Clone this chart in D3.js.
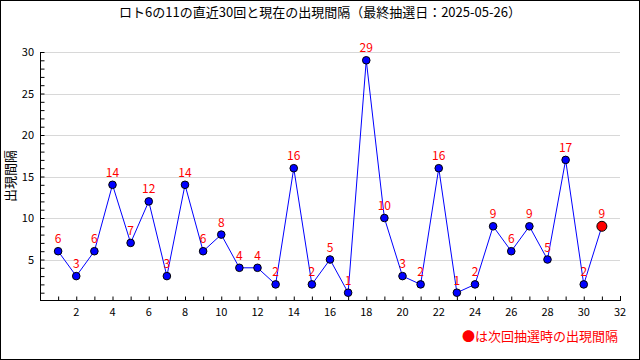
<!DOCTYPE html>
<html><head><meta charset="utf-8">
<script src="https://cdn.jsdelivr.net/npm/d3@7"></script>
<style>body{margin:0;background:#fff}svg{display:block}</style>
</head><body><svg id="c" width="640" height="360"></svg>
<script>
const title = "ロト6の11の直近30回と現在の出現間隔（最終抽選日：2025-05-26）";
const yLabel = "出現間隔";
const legendText = "●は次回抽選時の出現間隔";
const draws = d3.range(1, 32);
const intervals = [6,3,6,14,7,12,3,14,6,8,4,4,2,16,2,5,1,29,10,3,2,16,1,2,9,6,9,5,17,2,9];
const xTicks = d3.range(2, 33, 2);
const yTicks = [5,10,15,20,25,30];

const font = "'Noto Sans CJK JP', sans-serif";
const svg = d3.select("#c");
svg.append("rect").attr("x",0.5).attr("y",0.5).attr("width",639).attr("height",359)
  .attr("fill","#fff").attr("stroke","#000");

const x = d3.scaleLinear().domain([0,32]).range([40,620]);
const y = d3.scaleLinear().domain([0,30]).range([301,52]);

// grid
svg.append("g").selectAll("line").data(yTicks).join("line")
  .attr("x1",40).attr("x2",620).attr("y1",d=>Math.round(y(d))+0.5).attr("y2",d=>Math.round(y(d))+0.5)
  .attr("stroke","#d8d8d8");

// y axis
const ya = svg.append("g").attr("transform","translate(40.5,0)")
  .call(d3.axisRight(y).tickValues(d3.range(1,31)).tickSize(4).tickFormat(""));
ya.select(".domain").remove();
ya.selectAll("line").attr("stroke","#000");
svg.append("line").attr("x1",40.5).attr("x2",40.5).attr("y1",y(30)).attr("y2",301).attr("stroke","#000");
svg.append("g").selectAll("text").data(yTicks).join("text")
  .attr("x",34).attr("y",d=>y(d)+4).attr("text-anchor","end")
  .attr("font-family",font).attr("font-size",11).text(d=>d);

// x axis
const xa = svg.append("g").attr("transform","translate(0,300.5)")
  .call(d3.axisTop(x).tickValues(d3.range(1,33)).tickSize(4).tickFormat(""));
xa.select(".domain").remove();
xa.selectAll("line").attr("stroke","#000");
svg.append("line").attr("x1",40).attr("x2",620).attr("y1",300.5).attr("y2",300.5).attr("stroke","#000");
svg.append("line").attr("x1",620.5).attr("x2",620.5).attr("y1",296).attr("y2",301).attr("stroke","#000");
svg.append("g").selectAll("text").data(xTicks).join("text")
  .attr("x",d=>x(d)).attr("y",316).attr("text-anchor","middle")
  .attr("font-family",font).attr("font-size",11).text(d=>d);

// line
svg.append("path").datum(draws)
  .attr("d", d3.line().x(d=>x(d)).y((d,i)=>y(intervals[i])))
  .attr("fill","none").attr("stroke","#0000ff").attr("stroke-width",1);

// points
svg.append("g").selectAll("circle").data(draws).join("circle")
  .attr("cx",d=>x(d)).attr("cy",(d,i)=>y(intervals[i]))
  .attr("r",(d,i)=>i===draws.length-1?5:3.8)
  .attr("fill",(d,i)=>i===draws.length-1?"#ff0000":"#0000ff")
  .attr("stroke","#000").attr("stroke-width",1);

// value labels
svg.append("g").selectAll("text").data(draws).join("text")
  .attr("x",d=>x(d)).attr("y",(d,i)=>y(intervals[i])-8)
  .attr("text-anchor","middle").attr("fill","#ff0000")
  .attr("font-family",font).attr("font-size",12).text((d,i)=>intervals[i]);

// title
svg.append("text").attr("x",320).attr("y",17).attr("text-anchor","middle")
  .attr("font-family",font).attr("font-size",13).text(title);

// y label
svg.append("text").attr("transform","translate(15,176) rotate(-90)").attr("text-anchor","middle")
  .attr("font-family",font).attr("font-size",13).text(yLabel);

// legend
svg.append("text").attr("x",618).attr("y",341).attr("text-anchor","end").attr("fill","#ff0000")
  .attr("font-family",font).attr("font-size",13).text(legendText);
</script></body></html>
